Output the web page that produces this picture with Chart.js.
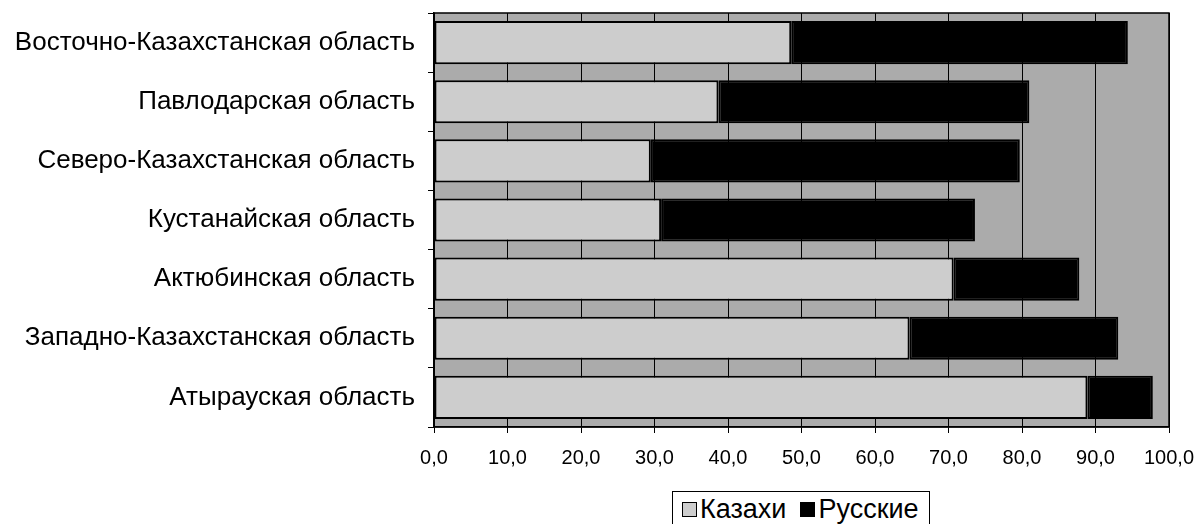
<!DOCTYPE html>
<html>
<head>
<meta charset="utf-8">
<script src="https://cdn.jsdelivr.net/npm/chart.js@4.4.1/dist/chart.umd.min.js"></script>
<style>
  html, body { margin: 0; padding: 0; background: #fff; }
  #wrap { position: relative; width: 1195px; height: 524px; overflow: hidden; }
  #legend {
    position: absolute; left: 672px; top: 491px; height: 44px;
    border: 1px solid #000; background: #fff;
    font-family: 'Liberation Sans', Arial, sans-serif;
    font-size: 27px; color: #000; padding: 0 10px 0 9px;
  }
  #legend .inner { display: flex; align-items: center; height: 34px; white-space: nowrap; }
  #legend span.box {
    display: inline-block; width: 15px; height: 15px; border: 1px solid #000;
    margin: 0 3px 0 0; box-sizing: border-box;
  }
  #legend span.item { display: flex; align-items: center; }
  #legend span.item + span.item { margin-left: 14px; }
</style>
</head>
<body>
<div id="wrap">
  <canvas id="chart" width="1195" height="524"></canvas>
  <div id="legend"><div class="inner"></div></div>
</div>
<script>
const REGIONS = [
    'Восточно-Казахстанская область',
    'Павлодарская область',
    'Северо-Казахстанская область',
    'Кустанайская область',
    'Актюбинская область',
    'Западно-Казахстанская область',
    'Атырауская область'
];
const KAZAKHS  = [48.6, 38.7, 29.5, 30.9, 70.7, 64.7, 88.9];
const RUSSIANS = [45.8, 42.3, 50.2, 42.7, 17.1, 28.4, 8.9];
const X_TICKS  = ['0,0', '10,0', '20,0', '30,0', '40,0', '50,0', '60,0', '70,0', '80,0', '90,0', '100,0'];

const SERIES_NAMES  = ['Казахи', 'Русские'];
const SERIES_COLORS = ['#cdcdcd', '#000000'];
const PLOT_BG       = '#ababab';
const FONT          = "'Liberation Sans', Arial, sans-serif";

const plotFrame = {
    id: 'plotFrame',
    beforeDraw(chart) {
        const { ctx, chartArea: a } = chart;
        ctx.save();
        ctx.fillStyle = PLOT_BG;
        ctx.fillRect(a.left, a.top, a.right - a.left, a.bottom - a.top);
        ctx.restore();
    },
    afterDatasetsDraw(chart) {
        const { ctx, chartArea: a } = chart;
        ctx.save();
        ctx.strokeStyle = '#000';
        ctx.lineWidth = 1.5;
        ctx.strokeRect(a.left, a.top, a.right - a.left, a.bottom - a.top);
        ctx.restore();
    }
};

const chart = new Chart(document.getElementById('chart'), {
    type: 'bar',
    data: {
        labels: REGIONS,
        datasets: [
            { label: SERIES_NAMES[0], data: KAZAKHS,  backgroundColor: SERIES_COLORS[0] },
            { label: SERIES_NAMES[1], data: RUSSIANS, backgroundColor: SERIES_COLORS[1] }
        ].map((d) => ({
            ...d,
            borderColor: '#000',
            borderWidth: 2,
            borderSkipped: false,
            barPercentage: 0.73,
            categoryPercentage: 1
        }))
    },
    options: {
        indexAxis: 'y',
        responsive: false,
        animation: false,
        layout: { padding: { top: 13, right: 26, left: 0, bottom: 0 } },
        plugins: {
            legend: { display: false },
            tooltip: { enabled: false }
        },
        scales: {
            x: {
                stacked: true,
                min: 0,
                max: 100,
                ticks: {
                    stepSize: 10,
                    color: '#000',
                    padding: 13,
                    maxRotation: 0,
                    font: { family: FONT, size: 20 },
                    callback: (v, i) => X_TICKS[i]
                },
                grid: { color: '#000', lineWidth: 1, tickLength: 6 },
                border: { color: '#000', width: 1.5 },
                afterFit: (s) => { s.height = 97; s.paddingLeft = 0; s.paddingRight = 0; }
            },
            y: {
                stacked: true,
                ticks: {
                    color: '#000',
                    padding: 13,
                    font: { family: FONT, size: 26 }
                },
                grid: { drawOnChartArea: false, color: '#000', tickLength: 6 },
                border: { color: '#000', width: 1.5 },
                afterFit: (s) => { s.width = 434; s.paddingTop = 0; s.paddingBottom = 0; }
            }
        }
    },
    plugins: [plotFrame]
});

const legendInner = document.querySelector('#legend .inner');
SERIES_NAMES.forEach((name, i) => {
    const item = document.createElement('span');
    item.className = 'item';
    const box = document.createElement('span');
    box.className = 'box';
    box.style.background = SERIES_COLORS[i];
    item.appendChild(box);
    item.appendChild(document.createTextNode(name));
    legendInner.appendChild(item);
});
</script>
</body>
</html>
